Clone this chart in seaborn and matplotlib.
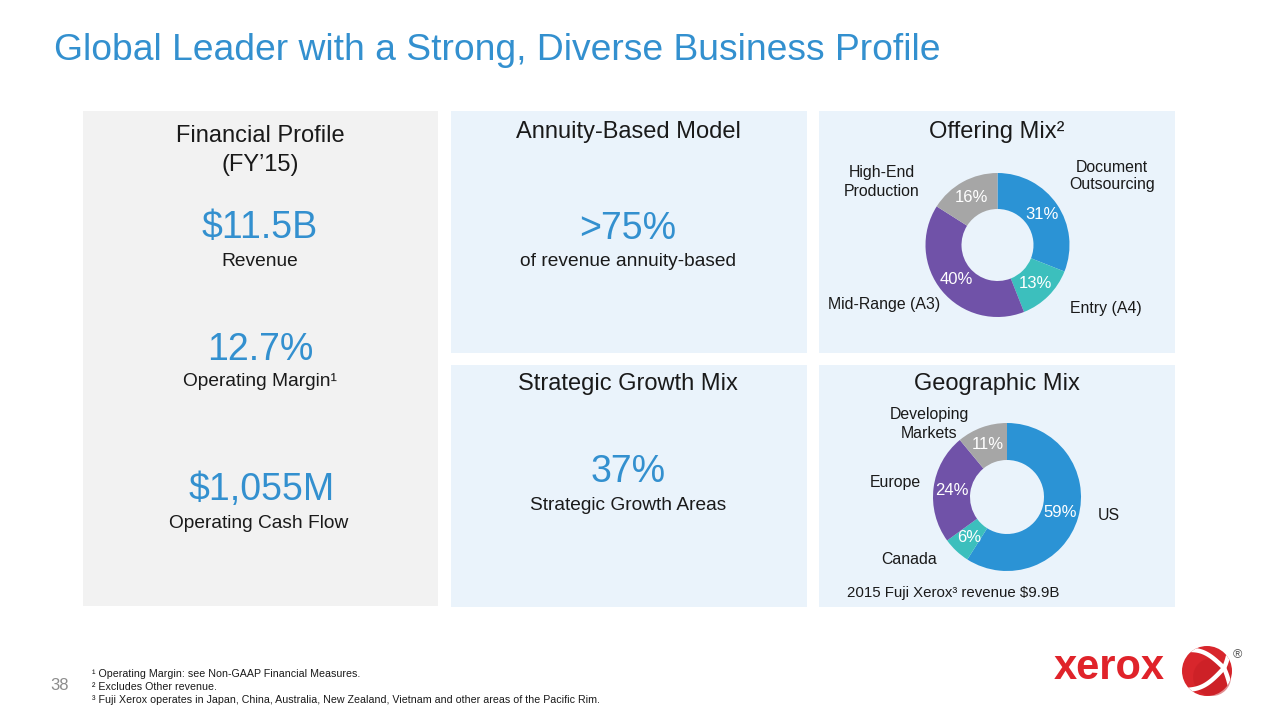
import numpy as np
import matplotlib
matplotlib.use("Agg")
from matplotlib import pyplot as plt
from matplotlib.patches import Rectangle, Circle
import seaborn as sns

# ---- data ----
offering_labels = ["Document\nOutsourcing", "Entry (A4)", "Mid-Range (A3)", "High-End\nProduction"]
offering_values = [31, 13, 40, 16]
geo_labels = ["US", "Canada", "Europe", "Developing\nMarkets"]
geo_values = [59, 6, 24, 11]

fin_values = ["$11.5B", "12.7%", "$1,055M"]
fin_captions = ["Revenue", "Operating Margin\u00b9", "Operating Cash Flow"]

footnotes = ["\u00b9 Operating Margin: see Non-GAAP Financial Measures.",
             "\u00b2 Excludes Other revenue.",
             "\u00b3 Fuji Xerox operates in Japan, China, Australia, New Zealand, Vietnam and other areas of the Pacific Rim."]

sns.set_theme(style="white")
plt.rcParams['font.family'] = ['Liberation Sans', 'DejaVu Sans']

BLUE = "#3390CF"
pal = sns.color_palette(["#2B93D5", "#3CBFBD", "#7052A8", "#A6A6A6"])
PANEL_BLUE = "#EAF3FB"
PANEL_GRAY = "#F2F2F2"

fig = plt.figure(figsize=(12.8, 7.2), dpi=100)
bg = fig.add_axes([0, 0, 1, 1])
bg.set_xlim(0, 1280)
bg.set_ylim(720, 0)
bg.axis("off")

# panels
bg.add_patch(Rectangle((83, 111), 355, 495, color=PANEL_GRAY, lw=0))
for (x, y) in [(451, 111), (819, 111), (451, 365), (819, 365)]:
    bg.add_patch(Rectangle((x, y), 356, 242, color=PANEL_BLUE, lw=0))

bg.text(54, 50, "Global Leader with a Strong, Diverse Business Profile", fontsize=26.8,
        color=BLUE, ha="left", va="center")

# panel headers
hdr = dict(fontsize=17, color="#1a1a1a", ha="center", va="center")
bg.text(260, 136, "Financial Profile", **hdr)
bg.text(260, 165, "(FY\u201915)", **hdr)
bg.text(628, 132, "Annuity-Based Model", **hdr)
bg.text(997, 132, "Offering Mix\u00b2", **hdr)
bg.text(628, 384, "Strategic Growth Mix", **hdr)
bg.text(997, 384, "Geographic Mix", **hdr)

# financial profile numbers
big = dict(fontsize=27, color=BLUE, ha="center", va="center")
cap = dict(fontsize=13.8, color="#1a1a1a", ha="center", va="center")
for val, capt, yv, yc, xv in zip(fin_values, fin_captions, [228, 350, 490], [261, 382, 523], [260, 260, 262]):
    bg.text(xv, yv, val, **big)
    bg.text(xv - (3 if capt.startswith("Operating Cash") else 0), yc, capt, **cap)

bg.text(628, 229, ">75%", **big)
bg.text(628, 261, "of revenue annuity-based", **cap)
bg.text(628, 472, "37%", **big)
bg.text(628, 506, "Strategic Growth Areas", **cap)


def donut(cx, cy, r, values, colors):
    ax = fig.add_axes([(cx - r) / 1280, (720 - cy - r) / 720, 2 * r / 1280, 2 * r / 720])
    ax.pie(values, colors=colors, startangle=90, counterclock=False,
           wedgeprops=dict(width=0.5, edgecolor="none"),
           autopct=lambda p: "%d%%" % round(p), pctdistance=0.75,
           textprops=dict(color="white", fontsize=12))
    ax.set_xlim(-1, 1)
    ax.set_ylim(-1, 1)
    ax.set_aspect("equal")
    ax.axis("off")
    return ax


donut(997.5, 245, 72, offering_values, pal)
donut(1007, 497, 74, geo_values, pal)

lab = dict(fontsize=11.4, color="#1a1a1a", ha="center", va="center", linespacing=1.25)
for text, (x, y) in zip(offering_labels, [(1112, 176), (1106, 308), (884, 305), (882, 182)]):
    bg.text(x, y, text, **lab)
for text, (x, y) in zip(geo_labels, [(1109, 516), (909, 559), (895, 483), (929, 424)]):
    bg.text(x, y, text, **lab)
bg.text(847, 593, "2015 Fuji Xerox\u00b3 revenue $9.9B", fontsize=10.8, color="#1a1a1a",
        ha="left", va="center")

# footer
bg.text(50, 685, "38", fontsize=12, color="#8c8c8c", ha="left", va="center")
for i, fn in enumerate(footnotes):
    bg.text(92, 674 + 13 * i, fn, fontsize=7.7, color="#1a1a1a", ha="left", va="center")

# logo
bg.text(1054, 668, "xerox", fontsize=30, fontweight="bold", color="#E0232A",
        ha="left", va="center")
sphere = Circle((1207, 671), 25, color="#D8262C", lw=0)
bg.add_patch(sphere)
bg.add_patch(Circle((1212, 677), 19, color="#C41E24", lw=0, alpha=0.5))
cxp, cyp = 1224, 668
t = np.linspace(0, 1, 30)
for ex, ey, bend in [(1186, 650, -6), (1186, 690, 6), (1230, 648, 2), (1231, 690, -2)]:
    xs = cxp + (ex - cxp) * t
    ys = cyp + (ey - cyp) * t + bend * np.sin(np.pi * t)
    ln, = bg.plot(xs, ys, color="white", lw=3.2, solid_capstyle="round")
    ln.set_clip_path(sphere)
bg.text(1237, 655, "\u00ae", fontsize=9, color="#555555", ha="center", va="center")

fig.savefig("out.png", dpi=100)
